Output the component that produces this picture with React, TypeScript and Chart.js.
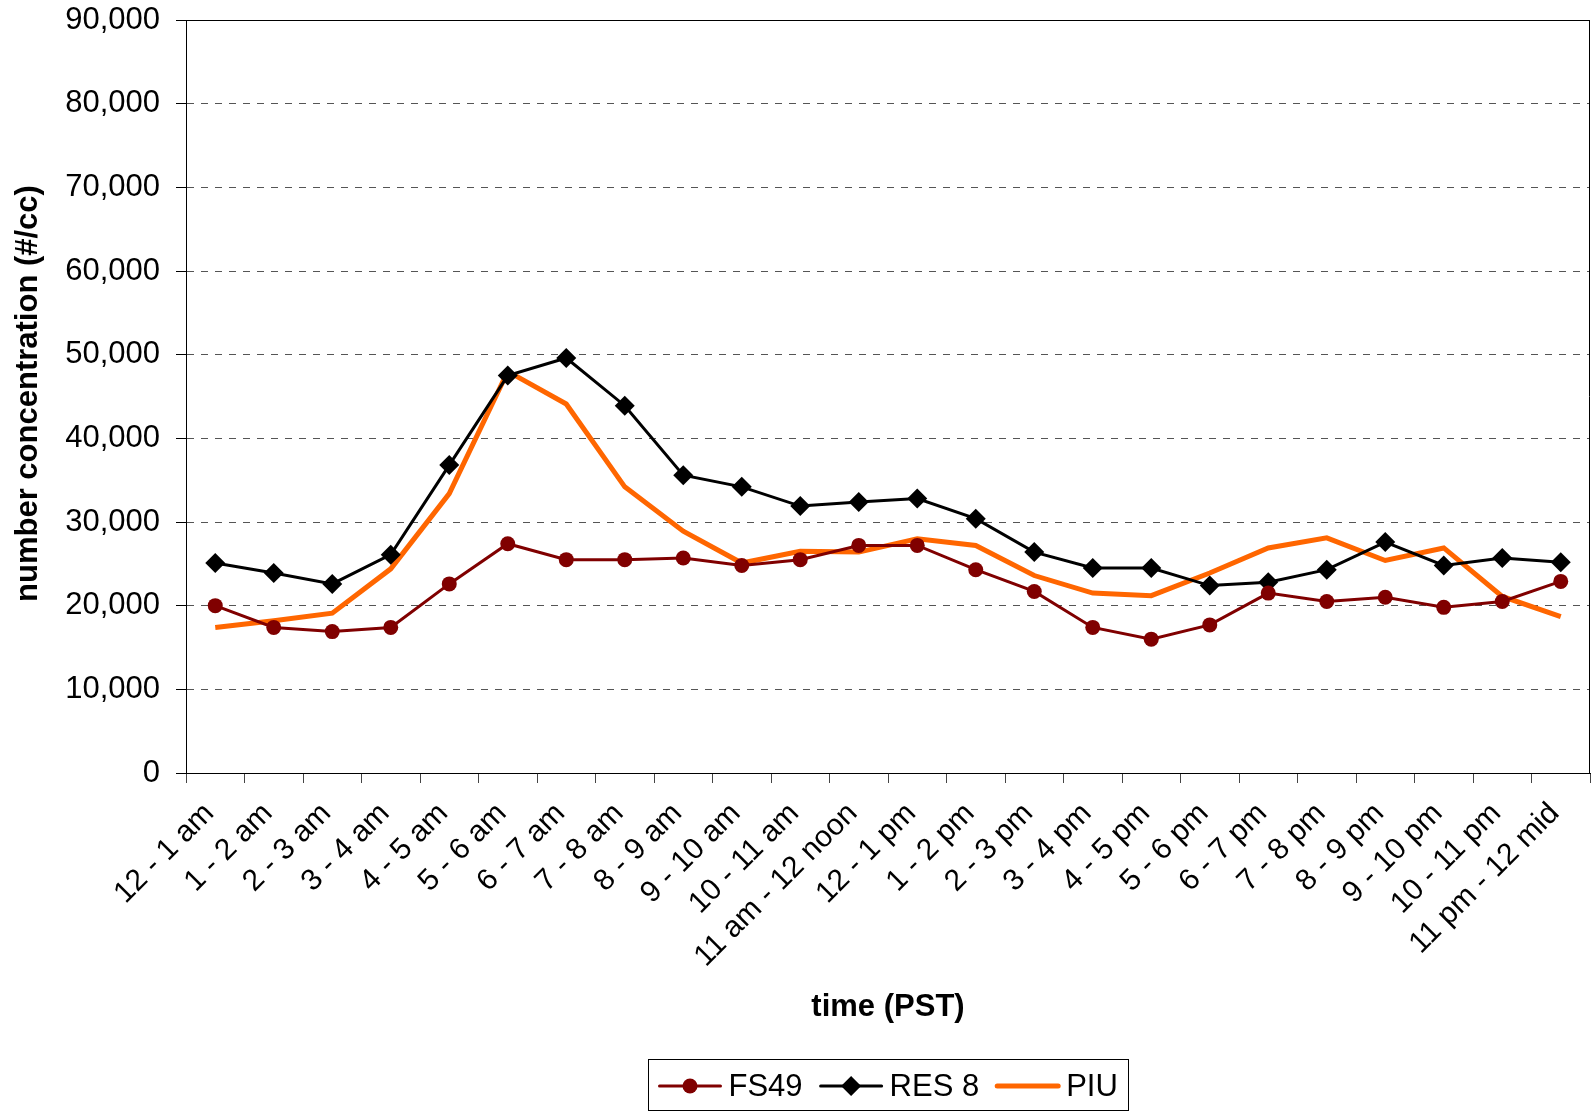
import React, { useEffect, useRef } from "react";
import { Chart, registerables } from "chart.js";

Chart.register(...registerables);

const categories = [
  "12 - 1 am", "1 - 2 am", "2 - 3 am", "3 - 4 am", "4 - 5 am", "5 - 6 am",
  "6 - 7 am", "7 - 8 am", "8 - 9 am", "9 - 10 am", "10 - 11 am", "11 am - 12 noon",
  "12 - 1 pm", "1 - 2 pm", "2 - 3 pm", "3 - 4 pm", "4 - 5 pm", "5 - 6 pm",
  "6 - 7 pm", "7 - 8 pm", "8 - 9 pm", "9 - 10 pm", "10 - 11 pm", "11 pm - 12 mid",
];

const fs49 = [
  20000, 17400, 16900, 17400, 22600, 27400, 25500, 25500, 25700, 24800, 25500, 27200,
  27200, 24300, 21700, 17400, 16000, 17700, 21500, 20500, 21000, 19800, 20500, 22900,
];

const res8 = [
  25100, 23900, 22600, 26100, 36800, 47500, 49600, 43900, 35600, 34200, 31900, 32400,
  32800, 30400, 26400, 24500, 24500, 22400, 22800, 24300, 27600, 24800, 25700, 25200,
];

const piu = [
  17400, 18200, 19100, 24400, 33400, 48000, 44100, 34200, 28900, 25100, 26500, 26400,
  28000, 27200, 23600, 21500, 21200, 23900, 26900, 28100, 25400, 26900, 21100, 18700,
];

const yTicksMax = 90000;
const yStep = 10000;

const seriesNames = ["FS49", "RES 8", "PIU"];
const seriesColors = ["#800000", "#000000", "#FF6600"];

const FONT = "'Liberation Sans', Arial, sans-serif";

const framePlugin = {
  id: "frame",
  beforeDatasetsDraw(chart: any) {
    const { ctx, chartArea } = chart;
    ctx.save();
    ctx.strokeStyle = "#000";
    ctx.lineWidth = 1;
    ctx.beginPath();
    ctx.moveTo(chartArea.left, Math.round(chartArea.top) + 0.5);
    ctx.lineTo(chartArea.right, Math.round(chartArea.top) + 0.5);
    ctx.moveTo(Math.round(chartArea.right) - 0.5, chartArea.top);
    ctx.lineTo(Math.round(chartArea.right) - 0.5, chartArea.bottom);
    ctx.stroke();
    ctx.restore();
  },
  afterDraw(chart: any) {
    const { ctx, chartArea } = chart;
    ctx.save();
    ctx.fillStyle = "#000";
    ctx.font = `bold 31px ${FONT}`;
    ctx.textAlign = "center";
    ctx.textBaseline = "middle";
    const cx = (chartArea.left + chartArea.right) / 2;
    const cy = (chartArea.top + chartArea.bottom) / 2;
    ctx.fillText("time (PST)", cx, chartArea.bottom + 234);
    ctx.save();
    ctx.translate(28, cy - 3);
    ctx.rotate(-Math.PI / 2);
    ctx.fillText("number concentration (#/cc)", 0, 0);
    ctx.restore();

    // legend
    ctx.font = `31px ${FONT}`;
    const pad = 11;
    const lineLen = 61;
    const gapText = 8;
    const gapItem = 18;
    const widths = seriesNames.map((n) => ctx.measureText(n).width);
    let total = pad * 2;
    widths.forEach((w, i) => {
      total += lineLen + gapText + w + (i < widths.length - 1 ? gapItem : 0);
    });
    const boxH = 51;
    const boxLeft = Math.round(cx - total / 2) + 0.5;
    const boxTop = chartArea.bottom + 286.5;
    ctx.strokeStyle = "#000";
    ctx.lineWidth = 1;
    ctx.strokeRect(boxLeft, boxTop, Math.round(total), boxH);
    const midY = boxTop + boxH / 2 + 1;
    let x = boxLeft + pad;
    seriesNames.forEach((name, i) => {
      const col = seriesColors[i];
      ctx.strokeStyle = col;
      ctx.lineWidth = i === 2 ? 5 : 3;
      ctx.lineCap = "round";
      ctx.beginPath();
      ctx.moveTo(x, midY);
      ctx.lineTo(x + lineLen, midY);
      ctx.stroke();
      const mx = x + lineLen / 2;
      ctx.fillStyle = col;
      if (i === 0) {
        ctx.beginPath();
        ctx.arc(mx, midY, 7.5, 0, Math.PI * 2);
        ctx.fill();
      } else if (i === 1) {
        ctx.beginPath();
        ctx.moveTo(mx, midY - 10);
        ctx.lineTo(mx + 10, midY);
        ctx.lineTo(mx, midY + 10);
        ctx.lineTo(mx - 10, midY);
        ctx.closePath();
        ctx.fill();
      }
      ctx.fillStyle = "#000";
      ctx.textAlign = "left";
      ctx.textBaseline = "middle";
      ctx.fillText(name, x + lineLen + gapText, midY + 1);
      x += lineLen + gapText + widths[i] + gapItem;
    });
    ctx.restore();
  },
};

export default function App() {
  const canvasRef = useRef<HTMLCanvasElement | null>(null);

  useEffect(() => {
    document.body.style.margin = "0";
    const canvas = canvasRef.current;
    if (!canvas) return;
    const chart = new Chart(canvas, {
      type: "line",
      data: {
        labels: categories,
        datasets: [
          {
            label: seriesNames[0],
            data: fs49,
            borderColor: seriesColors[0],
            backgroundColor: seriesColors[0],
            borderWidth: 3,
            pointStyle: "circle",
            pointRadius: 7.5,
            pointBorderWidth: 0,
            pointBackgroundColor: seriesColors[0],
            tension: 0,
          },
          {
            label: seriesNames[1],
            data: res8,
            borderColor: seriesColors[1],
            backgroundColor: seriesColors[1],
            borderWidth: 3,
            pointStyle: "rectRot",
            pointRadius: 10,
            pointBorderWidth: 0,
            pointBackgroundColor: seriesColors[1],
            tension: 0,
          },
          {
            label: seriesNames[2],
            data: piu,
            borderColor: seriesColors[2],
            backgroundColor: seriesColors[2],
            borderWidth: 5,
            pointRadius: 0,
            tension: 0,
          },
        ],
      },
      options: {
        responsive: false,
        animation: false,
        devicePixelRatio: 1,
        layout: { autoPadding: false, padding: { top: 20, right: 5, left: 0, bottom: 0 } },
        plugins: {
          legend: { display: false },
          tooltip: { enabled: false },
          title: { display: false },
        },
        scales: {
          x: {
            type: "category",
            offset: true,
            grid: {
              display: true,
              drawOnChartArea: false,
              drawTicks: true,
              tickLength: 10,
              offset: true,
              color: "#444",
            },
            border: { display: true, color: "#000", width: 1 },
            ticks: {
              autoSkip: false,
              maxRotation: 45,
              minRotation: 45,
              padding: 13,
              labelOffset: -6,
              color: "#000",
              font: { family: FONT, size: 30 },
            },
            afterFit: (s: any) => {
              s.height = 339;
              s.paddingLeft = 0;
              s.paddingRight = 0;
              s.paddingTop = 0;
              s.paddingBottom = 0;
            },
          },
          y: {
            min: 0,
            max: yTicksMax,
            ticks: {
              stepSize: yStep,
              padding: 16,
              color: "#000",
              font: { family: FONT, size: 31 },
              callback: (v: any) => Number(v).toLocaleString("en-US"),
            },
            grid: {
              color: "#555",
              lineWidth: 1,
              tickLength: 10,
              tickColor: "#000",
            },
            border: { display: true, color: "#000", width: 1, dash: [7, 7] },
            afterFit: (s: any) => {
              s.width = 186;
              s.paddingLeft = 0;
              s.paddingRight = 0;
              s.paddingTop = 0;
              s.paddingBottom = 0;
            },
          },
        },
      },
      plugins: [framePlugin],
    });
    return () => chart.destroy();
  }, []);

  return (
    <div style={{ position: "absolute", left: 0, top: 0, width: 1595, height: 1112, background: "#fff" }}>
      <canvas ref={canvasRef} width={1595} height={1112} style={{ width: 1595, height: 1112, display: "block" }} />
    </div>
  );
}
